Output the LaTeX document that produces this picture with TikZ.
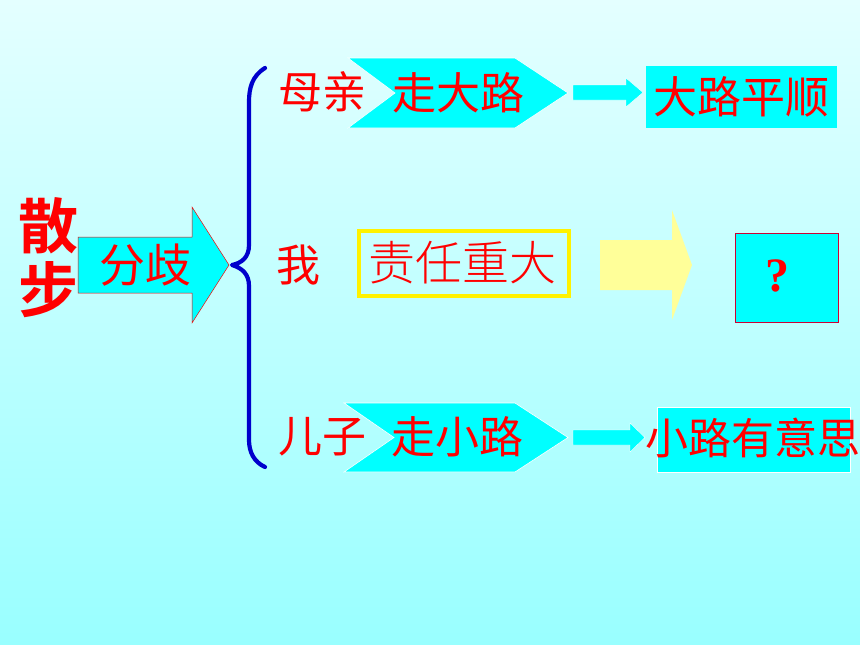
\documentclass[tikz,border=0pt]{standalone}
\usepackage{fontspec}
\setmainfont{Noto Sans CJK SC}
\newfontfamily\cjkb{Noto Sans CJK SC Bold}
\newfontfamily\cjkl{Noto Sans CJK SC Light}
\newfontfamily\serifq{Liberation Serif}
\definecolor{bgtop}{HTML}{E4FFFF}
\definecolor{bgbot}{HTML}{99FFFF}
\definecolor{cy}{HTML}{00FFFF}
\definecolor{rd}{HTML}{FF0000}
\definecolor{lyel}{HTML}{FFFF99}
\definecolor{brc}{HTML}{0000CC}
\tikzset{
  cn/.style={text=rd, inner sep=0pt, font=\fontsize{44}{44}\selectfont},
  cybox/.style={fill=cy, inner sep=0pt},
  chev/.style={fill=cy, draw=white, line width=0.6pt},
  smallarr/.style={fill=cy, draw=white, line width=0.4pt}
}
\begin{document}
\begin{tikzpicture}[x=1pt,y=-1pt]
\useasboundingbox (0,0) rectangle (860,645);
\shade[top color=bgtop, bottom color=bgbot] (0,0) rectangle (860,645);

% 散步
\node[cn, font=\cjkb\fontsize{60}{60}\selectfont] (san) at (48,226) {散};
\node[cn, font=\cjkb\fontsize{60}{60}\selectfont] (bu) at (48,290) {步};

% big arrow
\draw[fill=cy, draw=rd, line width=0.5pt] (78,237) -- (192,237) -- (192,207) -- (229,265) -- (192,323) -- (192,293) -- (78,293) -- cycle;
\node[cn, font=\fontsize{46}{46}\selectfont] (fq) at (145,265) {分歧};
\coordinate (tipA) at (229,265);

% brace
\coordinate (btop) at (265,68);
\coordinate (bmid) at (232,265);
\coordinate (bbot) at (265,467);
\draw[brc, line width=4.2pt, line cap=round, line join=round]
  (btop) .. controls (252,76) and (249,88) .. (249,102) -- (249,245)
  .. controls (249,257) and (242,263) .. (bmid)
  .. controls (242,268) and (249,274) .. (249,286) -- (249,440)
  .. controls (249,452) and (254,462) .. (bbot);

% Row 1
\node[cn] (mq) at (322,92) {母亲};
\draw[chev] (348,58) -- (515,58) -- (568,93) -- (515,128) -- (348,128) -- (395,93) -- cycle;
\node[cn] (zdl) at (458,93) {走大路};
\draw[smallarr] (573,85) -- (626,85) -- (626,78) -- (643,92.5) -- (626,107) -- (626,100) -- (573,100) -- cycle;
\node[cybox, minimum width=191pt, minimum height=62pt] (b1) at (741.5,97) {};
\node[cn] (dlps) at (741.5,97) {大路平顺};

% Row 2
\node[cn] (wo) at (298,265) {我};
\node[draw=yellow, line width=4pt, minimum width=210pt, minimum height=65pt, inner sep=0pt] (zr) at (464,263.5) {};
\node[cn, font=\cjkl\fontsize{47}{47}\selectfont] (zrt) at (462,263) {责任重大};
\fill[lyel] (600,240) -- (672,240) -- (672,210) -- (692,265) -- (672,320) -- (672,290) -- (600,290) -- cycle;
\node[fill=cy, draw=rd!80!blue, line width=0.6pt, minimum width=103pt, minimum height=89pt, inner sep=0pt] (qb) at (786.5,277.5) {};
\node[text=rd, font=\serifq\bfseries\fontsize{48}{48}\selectfont] (q) at (777,276) {?};

% Row 3
\node[cn] (ez) at (322,437) {儿子};
\draw[chev] (344,403) -- (515,403) -- (568,437.5) -- (515,472) -- (344,472) -- (394,437.5) -- cycle;
\node[cn] (zxl) at (457,437) {走小路};
\draw[smallarr] (573,430) -- (630,430) -- (630,423) -- (645,437.5) -- (630,452) -- (630,445) -- (573,445) -- cycle;
\node[cybox, draw=white, line width=0.6pt, minimum width=193pt, minimum height=65pt] (b3) at (753.5,439.5) {};
\node[cn, font=\fontsize{43}{43}\selectfont] (xl) at (753,438) {小路有意思};
\end{tikzpicture}
\end{document}
